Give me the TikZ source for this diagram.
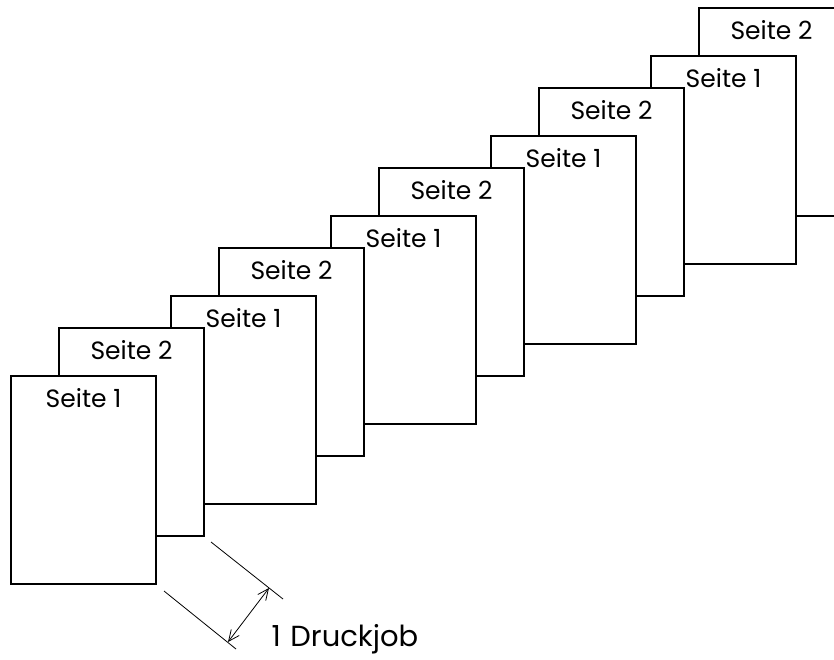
\documentclass[tikz,border=0pt]{standalone}
\usepackage{fontspec}
\setmainfont{Poppins}
\usetikzlibrary{calc, arrows.meta, positioning}

\begin{document}
\begin{tikzpicture}[x=1pt, y=-1pt]
	\tikzset{
		page/.style = {draw, fill=white, line width=2pt, minimum width=145pt, minimum height=208pt, anchor=north west, inner sep=0pt},
		pagelabel/.style = {font={\fontsize{25}{30}\selectfont}, anchor=base},
		biglabel/.style = {font={\fontsize{29}{34}\selectfont}, anchor=base west},
		dimline/.style = {line width=0.8pt},
		arrow/.style = {{Straight Barb[length=11pt, width=10pt]}-{Straight Barb[length=11pt, width=10pt]}, line width=0.8pt},
	}

	\useasboundingbox (0,0) rectangle (834,659);
	\clip (0,0) rectangle (834,659);

	\foreach \i in {5,4,3,2,1}
		{
			\node[page] (p\i2) at ({58+160*(\i-1)}, {327-80*(\i-1)}) {};
			\node[pagelabel] (l\i2) at ($(p\i2.north)+(0,32)$) {Seite 2};
			\node[page] (p\i1) at ({10+160*(\i-1)}, {375-80*(\i-1)}) {};
			\node[pagelabel] (l\i1) at ($(p\i1.north)+(0,32)$) {Seite 1};
		}

	\coordinate (e1a) at ($(p11.south east)+(7,6)$);
	\coordinate (e1b) at ($(p11.south east)+(79,64)$);
	\coordinate (e2a) at ($(p12.south east)+(6,5)$);
	\coordinate (e2b) at ($(p12.south east)+(78,62)$);
	\coordinate (a1) at ($(p11.south east)+(71,57)$);
	\coordinate (a2) at ($(p12.south east)+(64,51)$);

	\draw [dimline] (e1a) -- (e1b);
	\draw [dimline] (e2a) -- (e2b);
	\draw [arrow] (a1) -- (a2);

	\node[biglabel] (job) at ($(a1)+(40,4)$) {1\,\,Druckjob};

\end{tikzpicture}
\end{document}
